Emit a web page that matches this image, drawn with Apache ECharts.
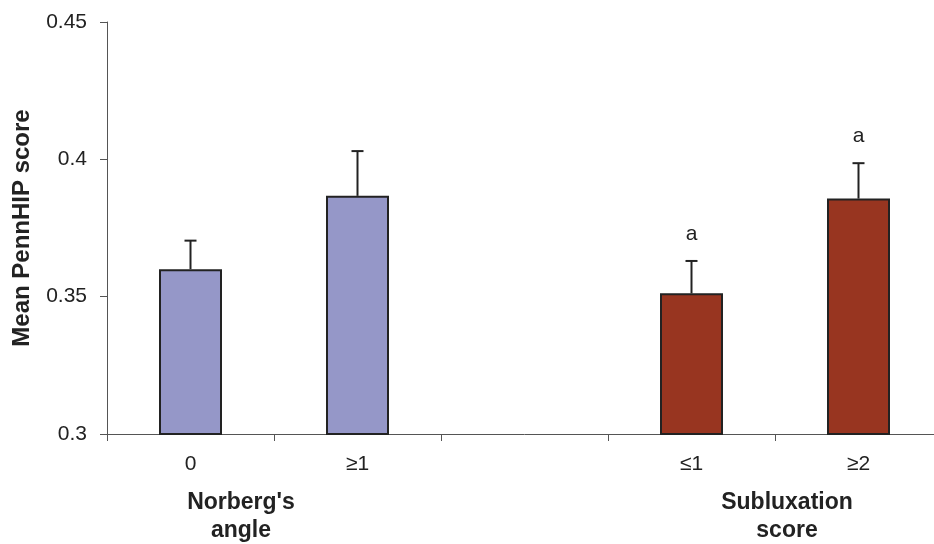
<!DOCTYPE html>
<html>
<head>
<meta charset="utf-8">
<script src="https://cdn.jsdelivr.net/npm/echarts@6/dist/echarts.min.js"></script>
<style>
  html, body { margin: 0; padding: 0; background: #fff; overflow: hidden; }
  /* The plot runs slightly past the right edge of the page */
  #chart { width: 942px; height: 544px; }
</style>
</head>
<body>
<div id="chart"></div>
<script>
// Categories: Norberg's angle (0, ≥1), a spacer slot, then Subluxation score (≤1, ≥2)
const categories = ['0', '≥1', '', '≤1', '≥2'];
const norbergMeans = [0.360, 0.3867, null, null, null];
const subluxMeans = [null, null, null, 0.3512, 0.3857];
// Upper error bar ends (mean + SE)
const errorTops = [0.3704, 0.4030, null, 0.3630, 0.3986];
// Significance letters above the error bars
const sigLetters = ['', '', '', 'a', 'a'];
const yTicks = { min: 0.3, max: 0.45, step: 0.05 };

const meansAll = categories.map((c, i) => norbergMeans[i] != null ? norbergMeans[i] : subluxMeans[i]);
const errData = categories
  .map((c, i) => [i, meansAll[i], errorTops[i], sigLetters[i]])
  .filter(d => d[1] != null);

const chart = echarts.init(document.getElementById('chart'));
const font = 'Liberation Sans, Arial, sans-serif';

chart.setOption({
  animation: false,
  grid: { left: 107, top: 22, bottom: 110, right: 0, containLabel: false },
  xAxis: {
    type: 'category',
    data: categories,
    axisLine: { lineStyle: { color: '#555', width: 1 } },
    axisTick: { show: true, length: 7, lineStyle: { color: '#555' } },
    axisLabel: { color: '#222', fontSize: 21, fontFamily: font, margin: 20 },
    splitLine: { show: false }
  },
  yAxis: {
    type: 'value',
    min: yTicks.min,
    max: yTicks.max,
    interval: yTicks.step,
    axisLine: { show: true, lineStyle: { color: '#555', width: 1 } },
    axisTick: { show: true, length: 7, lineStyle: { color: '#555' } },
    axisLabel: { color: '#222', fontSize: 21, fontFamily: font, margin: 20 },
    splitLine: { show: false },
    name: 'Mean PennHIP score',
    nameLocation: 'middle',
    nameGap: 73,
    nameRotate: 90,
    nameTextStyle: { color: '#222', fontSize: 24, fontWeight: 'bold', fontFamily: font }
  },
  series: [
    {
      type: 'bar',
      data: norbergMeans,
      barWidth: 63,
      barGap: '-100%',
      itemStyle: { color: '#9597c8', borderColor: '#222', borderWidth: 2 }
    },
    {
      type: 'bar',
      data: subluxMeans,
      barWidth: 63,
      barGap: '-100%',
      itemStyle: { color: '#983520', borderColor: '#222', borderWidth: 2 }
    },
    {
      type: 'custom',
      data: errData,
      z: 5,
      renderItem: function (params, api) {
        const x = api.value(0);
        const base = api.coord([x, api.value(1)]);
        const top = api.coord([x, api.value(2)]);
        const letter = api.value(3);
        const half = 6;
        const children = [
          { type: 'line', shape: { x1: base[0], y1: base[1], x2: top[0], y2: top[1] },
            style: { stroke: '#222', lineWidth: 2 } },
          { type: 'line', shape: { x1: top[0] - half, y1: top[1], x2: top[0] + half, y2: top[1] },
            style: { stroke: '#222', lineWidth: 2 } }
        ];
        if (letter) {
          children.push({
            type: 'text',
            style: { text: letter, x: top[0], y: top[1] - 27, align: 'center', verticalAlign: 'middle',
                     fill: '#222', font: '21px ' + font }
          });
        }
        return { type: 'group', children: children };
      }
    }
  ],
  graphic: [
    { type: 'text', x: 241, y: 489,
      style: { text: "Norberg's\nangle", align: 'center', fill: '#222',
               font: 'bold 23px ' + font, lineHeight: 28 } },
    { type: 'text', x: 787, y: 489,
      style: { text: 'Subluxation\nscore', align: 'center', fill: '#222',
               font: 'bold 23px ' + font, lineHeight: 28 } }
  ]
});
</script>
</body>
</html>
